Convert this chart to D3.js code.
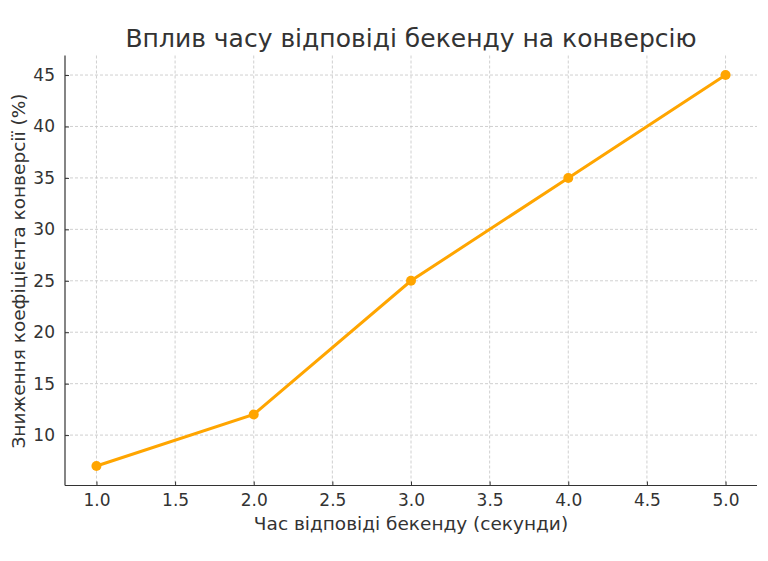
<!DOCTYPE html>
<html><head><meta charset="utf-8">
<script src="https://cdn.jsdelivr.net/npm/d3@7"></script>
<style>body{margin:0;background:#fff}svg{display:block}text{font-family:"DejaVu Sans",sans-serif;fill:#333}</style>
</head><body>
<script>
const xValues = [1, 2, 3, 4, 5];
const yValues = [7, 12, 25, 35, 45];
const xTicks = [1.0, 1.5, 2.0, 2.5, 3.0, 3.5, 4.0, 4.5, 5.0];
const yTicks = [10, 15, 20, 25, 30, 35, 40, 45];
const title = "Вплив часу відповіді бекенду на конверсію";
const xLabel = "Час відповіді бекенду (секунди)";
const yLabel = "Зниження коефіцієнта конверсії (%)";

const W = 768, H = 561;
const L = 65, R = 757, T = 55.5, B = 485.5;
const svg = d3.select("body").append("svg").attr("width", W).attr("height", H);
const x = d3.scaleLinear().domain([0.8, 5.2]).range([L, R]);
const y = d3.scaleLinear().domain([5.1, 46.9]).range([B, T]);

const grid = svg.append("g").attr("stroke", "#c4c4c4").attr("stroke-width", 0.8).attr("stroke-dasharray", "3,2");
grid.selectAll(".gx").data(xTicks).join("line").attr("x1", d => x(d)).attr("x2", d => x(d)).attr("y1", T).attr("y2", B);
grid.selectAll(".gy").data(yTicks).join("line").attr("y1", d => y(d)).attr("y2", d => y(d)).attr("x1", L).attr("x2", R);

const xa = svg.append("g").attr("transform", `translate(0,${B})`)
  .call(d3.axisBottom(x).tickValues(xTicks).tickFormat(d3.format(".1f")).tickSizeInner(-4).tickSizeOuter(0).tickPadding(8));
const ya = svg.append("g").attr("transform", `translate(${L},0)`)
  .call(d3.axisLeft(y).tickValues(yTicks).tickFormat(d3.format("d")).tickSizeInner(-4).tickSizeOuter(0).tickPadding(10));
[xa, ya].forEach(a => {
  a.select(".domain").attr("stroke", "#333").attr("stroke-width", 1.2);
  a.selectAll(".tick line").attr("stroke", "#333");
  a.selectAll(".tick text").attr("fill", "#333").style("font-size", "17px").style("font-family", "DejaVu Sans");
});
xa.select(".domain").attr("d", `M${L},0H${R}`);
ya.select(".domain").attr("d", `M0,${B}V${T}`);

const line = d3.line().x((d, i) => x(xValues[i])).y(d => y(d));
svg.append("path").datum(yValues).attr("d", line).attr("fill", "none").attr("stroke", "#FFA500").attr("stroke-width", 3);
svg.selectAll(".pt").data(yValues).join("circle").attr("cx", (d, i) => x(xValues[i])).attr("cy", d => y(d)).attr("r", 5).attr("fill", "#FFA500");

svg.append("text").attr("x", 411).attr("y", 47).attr("text-anchor", "middle").style("font-size", "25px").text(title);
svg.append("text").attr("x", 411).attr("y", 530).attr("text-anchor", "middle").style("font-size", "18.5px").text(xLabel);
svg.append("text").attr("transform", `translate(25,${271}) rotate(-90)`).attr("text-anchor", "middle").style("font-size", "18.5px").text(yLabel);
</script>
</body></html>
